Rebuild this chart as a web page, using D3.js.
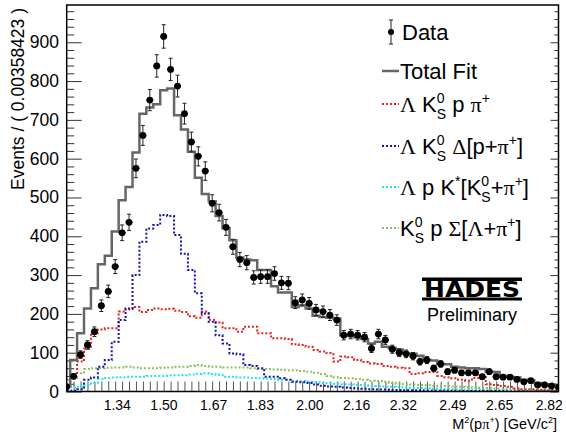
<!DOCTYPE html>
<html>
<head>
<meta charset="utf-8">
<script src="https://cdn.jsdelivr.net/npm/d3@7/dist/d3.min.js"></script>
<style>
  body { margin: 0; background: #fff; }
  svg { display: block; font-family: "Liberation Sans", Arial, Helvetica, sans-serif; }
</style>
</head>
<body>
<svg id="chart" width="566" height="432"></svg>
<script>
// Binning of M^2(p pi+) in GeV^2/c^4: first bin centre and bin width
const binStart = 1.1667;
const binWidth = 0.02373;

// Measured counts per bin
const dataCounts = [
  12, 39, 95, 120, 154, 221, 258, 322, 409, 436,
  575, 660, 751, 839, 915, 830, 787, 716, 643, 606,
  568, 485, 461, 423, 373, 340, 332, 294, 296, 296,
  304, 280, 279, 229, 236, 227, 210, 206, 197, 184,
  145, 148, 145, 140, 111, 148, 133, 109, 100, 97,
  91, 77, 81, 60, 71, 51, 55, 48, 48, 48,
  38, 51, 38, 37, 37, 31, 25, 28, 17, 17,
  14, 11
];

// Total fit
const totalFit = [
  15, 81, 150, 214, 266, 328, 350, 412, 493, 527,
  616, 716, 732, 740, 776, 781, 712, 675, 618, 551,
  509, 490, 452, 421, 390, 345, 340, 338, 313, 313,
  271, 255, 255, 218, 222, 214, 195, 192, 190, 188,
  145, 143, 140, 135, 124, 128, 115, 112, 108, 98,
  97, 92, 81, 80, 71, 70, 64, 62, 60, 60,
  58, 51, 50, 40, 38, 36, 30, 29, 22, 19,
  18, 16
];

// Fit components
const compLKpPi = [
  10, 45, 77, 110, 150, 160, 163, 163, 206, 212,
  218, 205, 210, 214, 212, 213, 208, 205, 194, 190,
  206, 185, 178, 163, 163, 154, 167, 167, 150, 150,
  137, 137, 135, 122, 120, 115, 107, 103, 99, 77,
  90, 88, 81, 76, 72, 71, 66, 64, 61, 60,
  45, 47, 50, 50, 40, 37, 34, 30, 28, 35,
  42, 19, 17, 14, 12, 8, 5, 5, 4, 3,
  3, 2
];
const compLKDelta = [
  1, 2, 6, 30, 36, 64, 81, 128, 184, 214,
  300, 386, 420, 429, 455, 452, 403, 355, 313, 253,
  201, 180, 145, 124, 98, 96, 68, 66, 60, 38,
  38, 34, 30, 25, 24, 22, 18, 15, 13, 12,
  10, 9, 8, 7, 6, 5, 5, 4, 4, 3,
  3, 3, 2, 2, 2, 2, 1, 1, 1, 1,
  1, 1, 1, 1, 0, 0, 0, 0, 0, 0,
  0, 0
];
const compLpKstar = [
  8, 10, 12, 16, 22, 32, 35, 36, 37, 38,
  38, 38, 40, 40, 40, 42, 42, 42, 44, 46,
  47, 45, 43, 38, 38, 36, 36, 35, 34, 33,
  32, 30, 30, 28, 27, 25, 24, 22, 21, 20,
  19, 18, 17, 16, 15, 14, 13, 12, 11, 10,
  9, 9, 8, 7, 7, 6, 6, 5, 5, 4,
  4, 3, 3, 3, 2, 2, 2, 2, 1, 1,
  1, 1
];
const compKpSigma = [
  30, 35, 47, 58, 60, 60, 61, 62, 62, 64,
  62, 60, 60, 60, 61, 62, 64, 64, 66, 68,
  66, 64, 64, 62, 62, 62, 62, 60, 58, 58,
  57, 56, 55, 55, 53, 51, 48, 45, 40, 37,
  35, 34, 32, 30, 28, 27, 25, 22, 20, 19,
  18, 17, 16, 15, 14, 14, 13, 12, 11, 10,
  9, 9, 8, 8, 7, 7, 6, 6, 6, 5,
  5, 5
];

const xTickLabels = [1.34, 1.50, 1.67, 1.83, 2.00, 2.16, 2.32, 2.49, 2.65, 2.82];
const yTickValues = [0, 100, 200, 300, 400, 500, 600, 700, 800, 900];
const yMinorStep = 20;
const yMax = 996;

const svg = d3.select("#chart");
const frame = { left: 66.7, right: 558.5, top: 5, bottom: 391.5 };

const nBins = dataCounts.length;
const centers = d3.range(nBins).map(k => binStart + k * binWidth);

const x = d3.scaleLinear()
  .domain([centers[0], centers[nBins - 1]])
  .range([frame.left, frame.right]);
const y = d3.scaleLinear()
  .domain([0, yMax])
  .range([frame.bottom, frame.top]);

svg.append("defs").append("clipPath").attr("id", "plotClip")
  .append("rect")
  .attr("x", frame.left).attr("y", frame.top)
  .attr("width", frame.right - frame.left)
  .attr("height", frame.bottom - frame.top);

// ---- axes ----
const minorValues = d3.range(0, yMax, yMinorStep).filter(v => v % 100 !== 0);

function styleAxis(color) {
  return g => {
    g.select(".domain").remove();
    g.selectAll(".tick line").attr("stroke", color).attr("stroke-width", 1);
  };
}

svg.append("g").attr("transform", `translate(${frame.left},0)`)
  .call(d3.axisLeft(y).tickValues(yTickValues).tickSize(-15).tickFormat(""))
  .call(styleAxis("#333"));
svg.append("g").attr("transform", `translate(${frame.left},0)`)
  .call(d3.axisLeft(y).tickValues(minorValues).tickSize(-7.5).tickFormat(""))
  .call(styleAxis("#333"));
svg.append("g").attr("transform", `translate(${frame.right},0)`)
  .call(d3.axisRight(y).tickValues(yTickValues).tickSize(-8).tickFormat(""))
  .call(styleAxis("#333"));
svg.append("g").attr("transform", `translate(${frame.right},0)`)
  .call(d3.axisRight(y).tickValues(minorValues).tickSize(-4).tickFormat(""))
  .call(styleAxis("#333"));

// y tick labels
svg.append("g").selectAll("text").data(yTickValues).join("text")
  .attr("x", 59).attr("y", d => y(d) + 6)
  .attr("text-anchor", "end")
  .attr("font-size", 17.5).attr("fill", "#000")
  .text(d => d);

// x ticks: one per bin
svg.append("g").attr("transform", `translate(0,${frame.bottom})`)
  .call(d3.axisBottom(x).tickValues(centers.slice(1, nBins - 1)).tickSize(-10).tickFormat(""))
  .call(styleAxis("#555"));

// x labels
svg.append("g").selectAll("text").data(xTickLabels).join("text")
  .attr("x", d => x(d)).attr("y", 410)
  .attr("text-anchor", "middle")
  .attr("font-size", 14).attr("fill", "#000")
  .text(d3.format(".2f"));

// ---- curves ----
const plot = svg.append("g").attr("clip-path", "url(#plotClip)");
const stepLine = d3.line()
  .x((d, i) => x(centers[i]))
  .y(d => y(d))
  .curve(d3.curveStep);

const components = [
  { values: compKpSigma, color: "#8fbf5a" },
  { values: compLpKstar, color: "#22e4e4" },
  { values: compLKpPi, color: "#e2231f" },
  { values: compLKDelta, color: "#1616a6" }
];
components.forEach(c => {
  plot.append("path").attr("d", stepLine(c.values))
    .attr("fill", "none").attr("stroke", c.color)
    .attr("stroke-width", 2).attr("stroke-dasharray", "2,2");
});

plot.append("path").attr("d", stepLine(totalFit))
  .attr("fill", "none").attr("stroke", "#666")
  .attr("stroke-width", 2.5);

// data points with Poisson errors
const half = (x(centers[1]) - x(centers[0])) / 2;
const hi = d => y(d + Math.sqrt(d));
const lo = d => y(Math.max(0, d - Math.sqrt(d)));
const pts = plot.append("g").selectAll("g").data(dataCounts).join("g")
  .attr("transform", (d, i) => `translate(${x(centers[i])},0)`);
pts.append("line").attr("x1", 0).attr("x2", 0).attr("y1", hi).attr("y2", lo)
  .attr("stroke", "#222").attr("stroke-width", 1);
pts.append("line").attr("x1", -2).attr("x2", 2).attr("y1", hi).attr("y2", hi)
  .attr("stroke", "#222").attr("stroke-width", 1);
pts.append("line").attr("x1", -2).attr("x2", 2).attr("y1", lo).attr("y2", lo)
  .attr("stroke", "#222").attr("stroke-width", 1);
pts.append("line").attr("x1", -half).attr("x2", half)
  .attr("y1", d => y(d)).attr("y2", d => y(d))
  .attr("stroke", "#000").attr("stroke-width", 1.5);
pts.append("circle").attr("cx", 0).attr("cy", d => y(d)).attr("r", 3.4).attr("fill", "#000");

// frame
svg.append("rect")
  .attr("x", frame.left).attr("y", frame.top)
  .attr("width", frame.right - frame.left).attr("height", frame.bottom - frame.top)
  .attr("fill", "none").attr("stroke", "#000").attr("stroke-width", 1.5);

// ---- rich text helper (stacked super/subscripts, serif greek) ----
const SERIF = "'Liberation Serif', 'Times New Roman', serif";
function richText(sel, parts, size) {
  const small = Math.round(size * 0.65);
  const up = size * 0.42, down = size * 0.3;
  let level = 0;      // current baseline offset (negative = raised)
  let pendingDx = 0;
  parts.forEach(p => {
    if (p.t !== undefined) {
      const ts = sel.append("tspan").text(p.t).attr("font-size", size);
      if (p.serif) ts.attr("font-family", SERIF);
      if (level !== 0) ts.attr("dy", -level);
      if (pendingDx) ts.attr("dx", pendingDx);
      level = 0; pendingDx = 0;
    } else {
      let supLen = 0;
      if (p.sup !== undefined) {
        const s = sel.append("tspan").text(p.sup).attr("font-size", small)
          .attr("dy", -up - level);
        if (pendingDx) s.attr("dx", pendingDx);
        pendingDx = 0;
        level = -up;
        supLen = s.node().getComputedTextLength();
      }
      if (p.sub !== undefined) {
        const s = sel.append("tspan").text(p.sub).attr("font-size", small)
          .attr("dx", -supLen + pendingDx).attr("dy", down - level);
        pendingDx = 0;
        level = down;
        const subLen = s.node().getComputedTextLength();
        if (subLen < supLen) pendingDx = supLen - subLen;
      }
    }
  });
}

// ---- legend ----
const legendX = 382, textX = 400, fs = 22;
const legend = svg.append("g");

// Data entry
const dataLegY = 32;
legend.append("line").attr("x1", 391).attr("x2", 391).attr("y1", dataLegY - 12).attr("y2", dataLegY + 12)
  .attr("stroke", "#222").attr("stroke-width", 1);
[dataLegY - 12, dataLegY + 12].forEach(yy => legend.append("line")
  .attr("x1", 389).attr("x2", 393).attr("y1", yy).attr("y2", yy).attr("stroke", "#222"));
legend.append("circle").attr("cx", 391).attr("cy", dataLegY).attr("r", 3).attr("fill", "#000");
legend.append("text").attr("x", textX + 2).attr("y", dataLegY + 8).attr("font-size", fs).text("Data");

// Total fit entry
legend.append("line").attr("x1", legendX).attr("x2", legendX + 17).attr("y1", 71).attr("y2", 71)
  .attr("stroke", "#666").attr("stroke-width", 2.5);
legend.append("text").attr("x", textX).attr("y", 79).attr("font-size", fs).text("Total Fit");

const compLegend = [
  { y: 104, color: "#e2231f", parts: [
    { t: "\u039B", serif: true }, { t: " K" }, { sup: "0", sub: "S" },
    { t: " p " }, { t: "\u03C0", serif: true }, { sup: "+" }] },
  { y: 146, color: "#1616a6", parts: [
    { t: "\u039B", serif: true }, { t: " K" }, { sup: "0", sub: "S" },
    { t: " " }, { t: "\u0394", serif: true }, { t: "[p+" }, { t: "\u03C0", serif: true },
    { sup: "+" }, { t: "]" }] },
  { y: 187, color: "#22e4e4", parts: [
    { t: "\u039B", serif: true }, { t: " p K" }, { sup: "*" }, { t: "[K" }, { sup: "0", sub: "S" },
    { t: "+" }, { t: "\u03C0", serif: true }, { sup: "+" }, { t: "]" }] },
  { y: 228, color: "#8fbf5a", parts: [
    { t: "K" }, { sup: "0", sub: "S" }, { t: " p " }, { t: "\u03A3", serif: true },
    { t: "[" }, { t: "\u039B", serif: true }, { t: "+" }, { t: "\u03C0", serif: true },
    { sup: "+" }, { t: "]" }] }
];
compLegend.forEach(e => {
  legend.append("line").attr("x1", legendX).attr("x2", legendX + 17).attr("y1", e.y).attr("y2", e.y)
    .attr("stroke", e.color).attr("stroke-width", 2).attr("stroke-dasharray", "2,2");
  const t = legend.append("text").attr("x", textX).attr("y", e.y + 8).attr("font-size", fs);
  richText(t, e.parts, fs);
});

// ---- HADES mark ----
const logo = svg.append("g");
logo.append("rect").attr("x", 422).attr("y", 277.5).attr("width", 100).attr("height", 3.5).attr("fill", "#000");
logo.append("rect").attr("x", 422).attr("y", 297.5).attr("width", 100).attr("height", 3).attr("fill", "#000");
logo.append("text").attr("x", 424).attr("y", 296.5)
  .attr("font-family", "'DejaVu Sans', sans-serif").attr("font-weight", 900)
  .attr("font-size", 21).attr("textLength", 96).attr("lengthAdjust", "spacingAndGlyphs")
  .text("HADES");
svg.append("text").attr("x", 472).attr("y", 321).attr("text-anchor", "middle")
  .attr("font-size", 18).text("Preliminary");

// ---- axis titles ----
const xt = svg.append("text").attr("x", 557).attr("y", 429).attr("text-anchor", "end").attr("font-size", 14.5);
richText(xt, [{ t: "M" }, { sup: "2" }, { t: "(p" }, { t: "\u03C0", serif: true }, { sup: "+" },
  { t: ") [GeV/c" }, { sup: "2" }, { t: "]" }], 14.5);

svg.append("text")
  .attr("transform", "translate(24,8) rotate(-90)")
  .attr("text-anchor", "end").attr("font-size", 17.5)
  .text("Events / ( 0.00358423 )");
</script>
</body>
</html>
